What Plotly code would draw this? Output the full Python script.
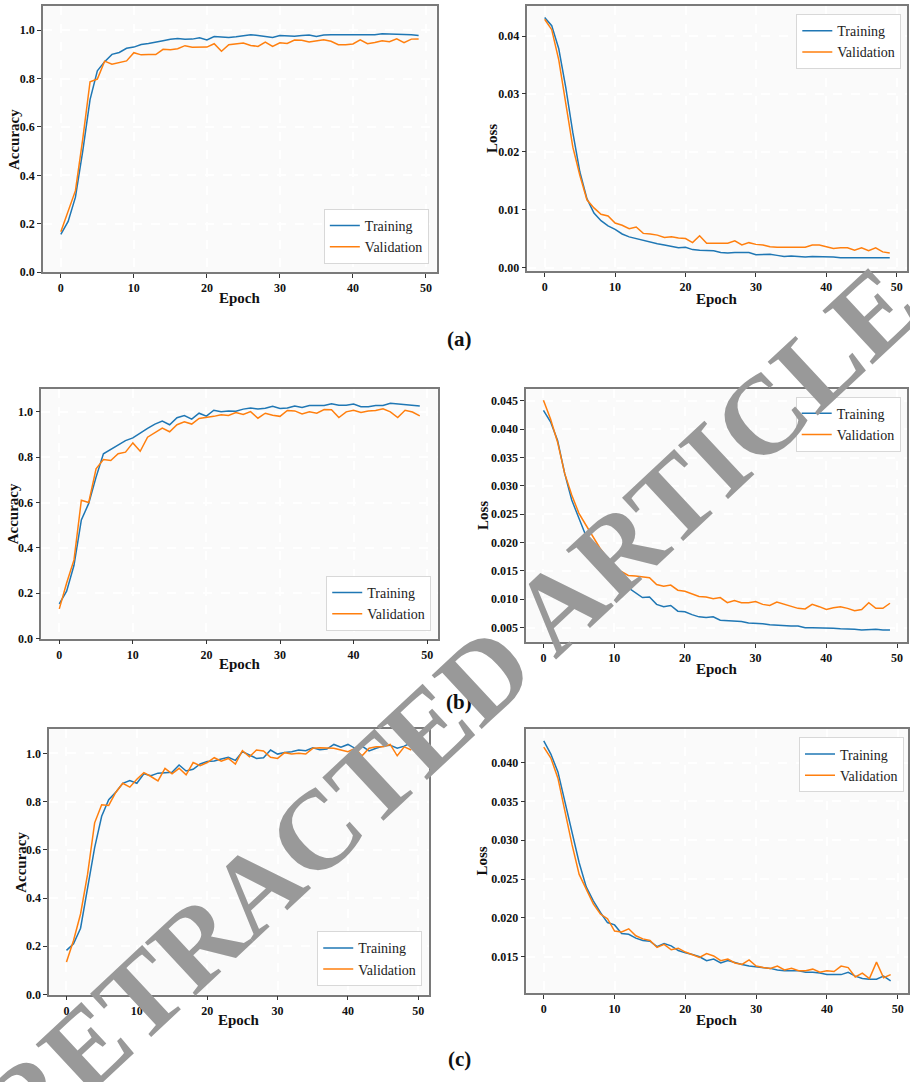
import plotly.graph_objects as go

W, H = 910, 1082

epochs = list(range(50))

# (a) accuracy / loss
acc_a_train = [0.156, 0.21, 0.31, 0.50, 0.713, 0.832, 0.870, 0.900, 0.908, 0.925,
               0.930, 0.941, 0.945, 0.952, 0.956, 0.962, 0.966, 0.962, 0.963, 0.969,
               0.960, 0.974, 0.973, 0.970, 0.973, 0.977, 0.981, 0.978, 0.973, 0.970,
               0.978, 0.975, 0.975, 0.978, 0.980, 0.974, 0.980, 0.981, 0.981, 0.978,
               0.981, 0.981, 0.981, 0.981, 0.985, 0.984, 0.985, 0.982, 0.981, 0.978]
acc_a_val = [0.167, 0.25, 0.337, 0.55, 0.787, 0.798, 0.872, 0.859, 0.866, 0.873,
             0.907, 0.898, 0.899, 0.899, 0.921, 0.919, 0.923, 0.936, 0.929, 0.929,
             0.930, 0.944, 0.913, 0.940, 0.945, 0.947, 0.937, 0.933, 0.951, 0.933,
             0.948, 0.945, 0.959, 0.958, 0.951, 0.954, 0.960, 0.954, 0.940, 0.940,
             0.943, 0.960, 0.944, 0.949, 0.956, 0.952, 0.964, 0.948, 0.963, 0.964]
loss_a_train = [0.0432, 0.0418, 0.0378, 0.0311, 0.0233, 0.0165, 0.0119, 0.0094, 0.0081, 0.0072,
                0.0066, 0.0058, 0.0053, 0.0050, 0.0046, 0.0043, 0.0041, 0.0039, 0.0037, 0.0034,
                0.0035, 0.0031, 0.0030, 0.0030, 0.0029, 0.0026, 0.0025, 0.0026, 0.0026, 0.0026,
                0.0022, 0.0022, 0.0023, 0.0021, 0.0019, 0.0020, 0.0019, 0.0018, 0.0019, 0.0019,
                0.0018, 0.0018, 0.0017, 0.0017, 0.0016, 0.0016, 0.0016, 0.0016, 0.0016, 0.0017]
loss_a_val = [0.0429, 0.0411, 0.0359, 0.0285, 0.0208, 0.0159, 0.0117, 0.0103, 0.0092, 0.0089,
              0.0077, 0.0073, 0.0067, 0.0070, 0.0059, 0.0058, 0.0056, 0.0052, 0.0053, 0.0051,
              0.0050, 0.0043, 0.0055, 0.0042, 0.0042, 0.0042, 0.0042, 0.0046, 0.0039, 0.0043,
              0.0040, 0.0039, 0.0036, 0.0035, 0.0035, 0.0035, 0.0034, 0.0035, 0.0039, 0.0039,
              0.0036, 0.0033, 0.0034, 0.0034, 0.0030, 0.0034, 0.0029, 0.0034, 0.0027, 0.0025]

# (b) accuracy / loss
acc_b_train = [0.153, 0.209, 0.323, 0.523, 0.596, 0.712, 0.815, 0.834, 0.855, 0.873,
               0.885, 0.907, 0.927, 0.946, 0.959, 0.943, 0.974, 0.984, 0.968, 0.994,
               0.981, 1.007, 1.000, 1.004, 1.003, 1.012, 1.017, 1.013, 1.016, 1.025,
               1.015, 1.017, 1.026, 1.019, 1.028, 1.028, 1.028, 1.036, 1.029, 1.029,
               1.034, 1.023, 1.023, 1.028, 1.028, 1.038, 1.035, 1.034, 1.032, 1.026]
acc_b_val = [0.131, 0.245, 0.347, 0.610, 0.600, 0.749, 0.790, 0.785, 0.815, 0.822,
             0.863, 0.826, 0.888, 0.909, 0.928, 0.912, 0.943, 0.956, 0.946, 0.971,
             0.975, 0.980, 0.987, 0.984, 0.997, 0.988, 1.001, 0.972, 0.994, 0.985,
             0.980, 1.006, 1.004, 0.991, 1.000, 0.994, 1.010, 1.009, 0.975, 1.000,
             1.007, 0.997, 1.004, 1.006, 1.013, 1.000, 0.975, 1.007, 0.999, 0.982]
loss_b_train = [0.0433, 0.0413, 0.0380, 0.0322, 0.0275, 0.0243, 0.0212, 0.0187, 0.0167, 0.0151,
                0.0138, 0.0129, 0.0120, 0.0111, 0.0103, 0.0104, 0.0091, 0.0087, 0.0089, 0.0079,
                0.0078, 0.0073, 0.0069, 0.0068, 0.0069, 0.0063, 0.0062, 0.0062, 0.0061, 0.0058,
                0.0058, 0.0057, 0.0055, 0.0054, 0.0054, 0.0053, 0.0053, 0.0050, 0.0050, 0.0050,
                0.0050, 0.0049, 0.0048, 0.0048, 0.0047, 0.0046, 0.0047, 0.0047, 0.0046, 0.0046]
loss_b_val = [0.0451, 0.0418, 0.0377, 0.0322, 0.0284, 0.0252, 0.0231, 0.0211, 0.0190, 0.0173,
              0.0158, 0.0149, 0.0142, 0.0141, 0.0139, 0.0138, 0.0126, 0.0123, 0.0125, 0.0116,
              0.0114, 0.0110, 0.0105, 0.0104, 0.0101, 0.0103, 0.0094, 0.0098, 0.0094, 0.0094,
              0.0096, 0.0091, 0.0089, 0.0095, 0.0091, 0.0088, 0.0084, 0.0083, 0.0091, 0.0087,
              0.0082, 0.0085, 0.0087, 0.0084, 0.0080, 0.0082, 0.0094, 0.0084, 0.0084, 0.0093]

# (c) accuracy / loss
acc_c_train = [0.183, 0.210, 0.275, 0.444, 0.609, 0.739, 0.808, 0.839, 0.876, 0.887,
               0.876, 0.915, 0.907, 0.918, 0.920, 0.922, 0.952, 0.927, 0.934, 0.956,
               0.966, 0.968, 0.977, 0.984, 0.971, 1.007, 0.993, 0.979, 0.982, 1.014,
               0.997, 1.004, 1.007, 1.014, 1.011, 1.023, 1.015, 1.018, 1.037, 1.026,
               1.037, 1.021, 1.030, 1.010, 1.021, 1.030, 1.034, 1.021, 1.030, 1.044]
acc_c_val = [0.135, 0.224, 0.334, 0.499, 0.712, 0.787, 0.784, 0.838, 0.876, 0.860,
             0.893, 0.920, 0.904, 0.886, 0.938, 0.915, 0.938, 0.911, 0.962, 0.949,
             0.962, 0.982, 0.968, 0.979, 0.956, 1.011, 0.986, 1.014, 1.010, 0.984,
             0.979, 1.003, 0.997, 1.000, 0.997, 1.021, 1.023, 1.023, 1.021, 1.014,
             1.007, 1.021, 0.990, 1.021, 1.027, 1.027, 1.037, 0.990, 1.027, 1.014]
loss_c_train = [0.0428, 0.0411, 0.0388, 0.0350, 0.0310, 0.0271, 0.0240, 0.0222, 0.0207, 0.0194,
                0.0191, 0.0180, 0.0179, 0.0174, 0.0171, 0.0170, 0.0163, 0.0167, 0.0164, 0.0158,
                0.0155, 0.0153, 0.0150, 0.0145, 0.0147, 0.0142, 0.0145, 0.0142, 0.0140, 0.0138,
                0.0137, 0.0136, 0.0135, 0.0133, 0.0132, 0.0132, 0.0132, 0.0130, 0.0130, 0.0129,
                0.0127, 0.0127, 0.0127, 0.0130, 0.0125, 0.0122, 0.0121, 0.0121, 0.0125, 0.0119]
loss_c_val = [0.0420, 0.0406, 0.0380, 0.0337, 0.0294, 0.0256, 0.0237, 0.0218, 0.0205, 0.0199,
              0.0183, 0.0182, 0.0186, 0.0177, 0.0173, 0.0171, 0.0162, 0.0166, 0.0159, 0.0161,
              0.0156, 0.0152, 0.0149, 0.0154, 0.0151, 0.0145, 0.0147, 0.0142, 0.0140, 0.0146,
              0.0138, 0.0136, 0.0135, 0.0138, 0.0133, 0.0135, 0.0132, 0.0132, 0.0134, 0.0130,
              0.0132, 0.0131, 0.0138, 0.0136, 0.0124, 0.0129, 0.0122, 0.0143, 0.0123, 0.0127]

series_names = ["Training", "Validation"]
colors = ["#1f77b4", "#ff7f0e"]
x_ticks = [0, 10, 20, 30, 40, 50]
acc_ticks = [0.0, 0.2, 0.4, 0.6, 0.8, 1.0]
loss_a_ticks = [0.00, 0.01, 0.02, 0.03, 0.04]
loss_b_ticks = [0.005, 0.010, 0.015, 0.020, 0.025, 0.030, 0.035, 0.040, 0.045]
loss_c_ticks = [0.015, 0.020, 0.025, 0.030, 0.035, 0.040]
panel_labels = ["(a)", "(b)", "(c)"]

SERIF = "Liberation Serif"


def px_x(v):
    return v / W


def px_y(v):
    return 1 - v / H


def bold_labels(vals, fmt):
    return ["<b>" + format(v, fmt) + "</b>" for v in vals]


# panel boxes in pixels: left, right, top, bottom
panels = [
    dict(box=(43, 437, 6, 274), data=(acc_a_train, acc_a_val), yrange=(0, 1.1),
         ticks=acc_ticks, fmt=".1f", title="Accuracy", title_x=14, epoch_y=300,
         legend=dict(x=429.3, y=265.7, anchor="bottom")),
    dict(box=(528, 908, 6, 273), data=(loss_a_train, loss_a_val), yrange=(-0.00064, 0.0452),
         ticks=loss_a_ticks, fmt=".2f", title="Loss", title_x=492, epoch_y=301,
         legend=dict(x=902.3, y=14.3, anchor="top")),
    dict(box=(41.3, 438.3, 391.7, 642.7), data=(acc_b_train, acc_b_val), yrange=(0, 1.1),
         ticks=acc_ticks, fmt=".1f", title="Accuracy", title_x=12.5, epoch_y=668,
         legend=dict(x=431.7, y=635, anchor="bottom")),
    dict(box=(526.7, 908.3, 392, 646), data=(loss_b_train, loss_b_val), yrange=(0.0025, 0.047),
         ticks=loss_b_ticks, fmt=".3f", title="Loss", title_x=483, epoch_y=673,
         legend=dict(x=901.7, y=399.3, anchor="top")),
    dict(box=(49.3, 429, 734, 1001), data=(acc_c_train, acc_c_val), yrange=(0, 1.1),
         ticks=acc_ticks, fmt=".1f", title="Accuracy", title_x=21, epoch_y=1027,
         legend=dict(x=422.7, y=992.7, anchor="bottom")),
    dict(box=(527, 909, 734, 999.3), data=(loss_c_train, loss_c_val), yrange=(0.01035, 0.0443),
         ticks=loss_c_ticks, fmt=".3f", title="Loss", title_x=483, epoch_y=1027,
         legend=dict(x=905, y=742.3, anchor="top")),
]

fig = go.Figure()
layout = dict(
    width=W, height=H,
    margin=dict(l=0, r=0, t=0, b=0),
    paper_bgcolor="white",
    plot_bgcolor="#fafafa",
    font=dict(family=SERIF, color="#111111"),
    annotations=[],
)

axis_common = dict(
    showline=True, mirror=True, linecolor="#7a7a7a", linewidth=1.5,
    ticks="outside", ticklen=4, tickwidth=1, tickcolor="#333333",
    showgrid=True, gridcolor="#ffffff", gridwidth=1.5, griddash="dash",
    zeroline=False,
    tickfont=dict(family=SERIF, size=12, color="#111111"),
)

for i, p in enumerate(panels):
    n = "" if i == 0 else str(i + 1)
    l, r, t, b = p["box"]
    leg_name = "legend" + n
    for j, ys in enumerate(p["data"]):
        fig.add_trace(go.Scatter(
            x=epochs, y=ys, mode="lines", name=series_names[j],
            line=dict(color=colors[j], width=1.5),
            xaxis="x" + n, yaxis="y" + n, legend=leg_name, showlegend=True,
        ))
    layout["xaxis" + n] = dict(
        axis_common, domain=[px_x(l), px_x(r)], anchor="y" + n,
        range=[-2.45, 51.45], tickvals=x_ticks, ticktext=bold_labels(x_ticks, "d"),
    )
    layout["yaxis" + n] = dict(
        axis_common, domain=[px_y(b), px_y(t)], anchor="x" + n,
        range=list(p["yrange"]), tickvals=p["ticks"],
        ticktext=bold_labels(p["ticks"], p["fmt"]),
    )
    lg = p["legend"]
    layout[leg_name] = dict(
        x=px_x(lg["x"]), y=px_y(lg["y"]), xanchor="right", yanchor=lg["anchor"],
        xref="paper", yref="paper",
        bgcolor="rgba(255,255,255,0.85)", bordercolor="#d8d8d8", borderwidth=1,
        font=dict(family=SERIF, size=14, color="#222222"),
        tracegroupgap=0,
    )
    # axis titles
    layout["annotations"].append(dict(
        text="<b>%s</b>" % p["title"], x=px_x(p["title_x"]), y=px_y((t + b) / 2),
        xref="paper", yref="paper", showarrow=False, textangle=-90,
        font=dict(family=SERIF, size=15, color="#111111"),
        xanchor="center", yanchor="middle",
    ))
    layout["annotations"].append(dict(
        text="<b>Epoch</b>", x=px_x((l + r) / 2), y=px_y(p["epoch_y"]),
        xref="paper", yref="paper", showarrow=False,
        font=dict(family=SERIF, size=15, color="#111111"),
        xanchor="center", yanchor="middle",
    ))

# panel captions
for lab, yc in zip(panel_labels, [341, 707, 1066]):
    layout["annotations"].append(dict(
        text="<b>%s</b>" % lab, x=px_x(460), y=px_y(yc),
        xref="paper", yref="paper", showarrow=False,
        font=dict(family=SERIF, size=21, color="#111111"),
        xanchor="center", yanchor="middle",
    ))

# diagonal retraction stamp across the figure
layout["annotations"].append(dict(
    text="<b>RETRACTED ARTICLE</b>", x=px_x(450), y=px_y(712),
    xref="paper", yref="paper", showarrow=False, textangle=-43,
    font=dict(family=SERIF, size=112, color="#999999"),
    xanchor="center", yanchor="middle",
))

fig.update_layout(**layout)
fig.write_html("out.html")
